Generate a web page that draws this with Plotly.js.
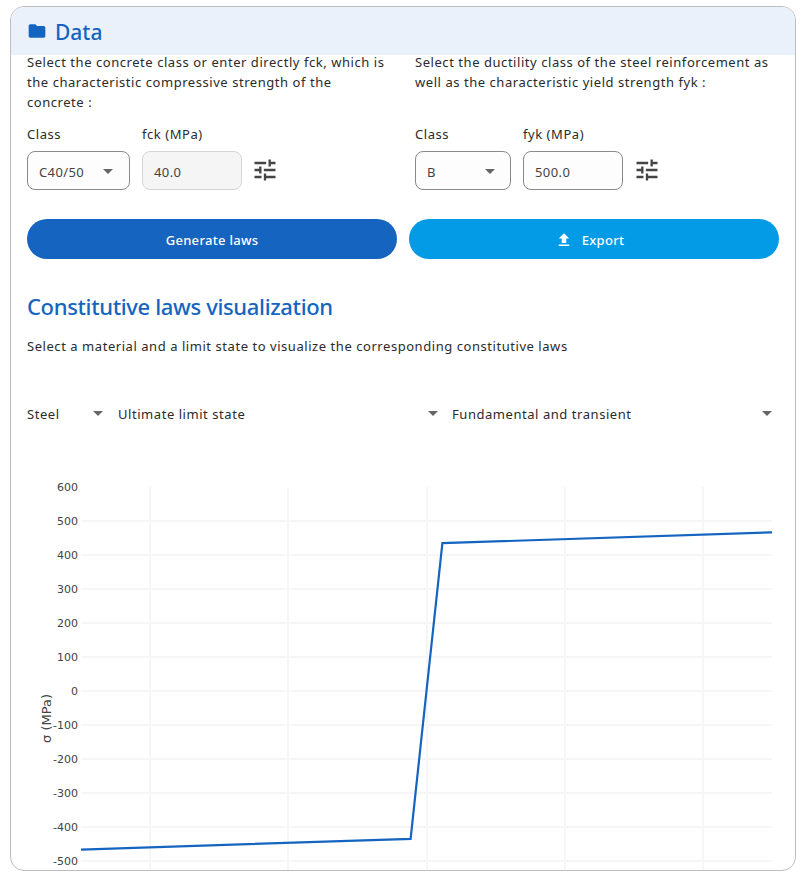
<!DOCTYPE html>
<html><head><meta charset="utf-8">
<script src="https://cdn.plot.ly/plotly-3.0.1.min.js"></script>
<style>
html,body{margin:0;padding:0;background:#fff;width:806px;height:879px;overflow:hidden;font-family:"Noto Sans",sans-serif;color:#2b2b2b}
#card{position:absolute;left:10px;top:6px;width:784px;height:863px;border:1px solid #bdbdbd;border-radius:14px;overflow:hidden;background:#fff}
#page{position:absolute;left:-11px;top:-7px;width:806px;height:879px}
#page>*{position:absolute;white-space:nowrap}
.t{font-size:13px;letter-spacing:.55px;line-height:20px}
.box{box-sizing:border-box;border:1px solid #8a8a8a;border-radius:8px;height:39px;top:151px;font-size:13px;line-height:40px;padding-left:11px;letter-spacing:.4px;color:#444;background:#fdfdfd}
.arrow{width:0;height:0;border-left:5px solid transparent;border-right:5px solid transparent;border-top:5px solid #666}
.btn{top:219px;height:40px;border-radius:20px;width:370px;color:#fff;text-align:center;font-size:13px;line-height:42px;font-weight:500;letter-spacing:.3px}
svg{position:absolute}
</style></head><body>
<div id="card"><div id="page">
<div style="left:0;top:0;width:806px;height:55px;background:#eaf1fa"></div>
<svg style="left:27px;top:21px" width="20" height="20" viewBox="0 0 24 24"><path fill="#1565c0" d="M10 4H4c-1.1 0-2 .9-2 2v12c0 1.1.9 2 2 2h16c1.1 0 2-.9 2-2V8c0-1.1-.9-2-2-2h-8z"/></svg>
<div style="left:55px;top:19px;font-size:21px;line-height:27px;font-weight:500;color:#1565c0">Data</div>
<div class="t" style="left:27px;top:52px">Select the concrete class or enter directly fck, which is<br>the characteristic compressive strength of the<br>concrete :</div>
<div class="t" style="left:415px;top:52px">Select the ductility class of the steel reinforcement as<br>well as the characteristic yield strength fyk :</div>
<div class="t" style="left:27px;top:124px">Class</div>
<div class="t" style="left:142px;top:124px">fck (MPa)</div>
<div class="t" style="left:415px;top:124px">Class</div>
<div class="t" style="left:523px;top:124px">fyk (MPa)</div>
<div class="box" style="left:27px;width:103px">C40/50</div><div class="arrow" style="left:103px;top:169px"></div>
<div class="box" style="left:142px;width:100px;background:#f5f5f5;border-color:#d5d5d5">40.0</div>
<div class="box" style="left:415px;width:96px">B</div><div class="arrow" style="left:485px;top:169px"></div>
<div class="box" style="left:523px;width:100px">500.0</div>
<svg style="left:251px;top:156px" width="28" height="28" viewBox="0 0 24 24"><path fill="#444" d="M3 17v2h6v-2H3zM3 5v2h10V5H3zm10 16v-2h8v-2h-8v-2h-2v6h2zM7 9v2H3v2h4v2h2V9H7zm14 4v-2H11v2h10zm-6-4h2V7h4V5h-4V3h-2v6z"/></svg>
<svg style="left:633px;top:156px" width="28" height="28" viewBox="0 0 24 24"><path fill="#444" d="M3 17v2h6v-2H3zM3 5v2h10V5H3zm10 16v-2h8v-2h-8v-2h-2v6h2zM7 9v2H3v2h4v2h2V9H7zm14 4v-2H11v2h10zm-6-4h2V7h4V5h-4V3h-2v6z"/></svg>
<div class="btn" style="left:27px;background:#1565c0">Generate laws</div>
<div class="btn" style="left:409px;background:#039be5"><svg style="left:146px;top:12px" width="18" height="18" viewBox="0 0 24 24"><path fill="#fff" d="M5 20h14v-2H5v2zm0-10h4v6h6v-6h4l-7-7-7 7z"/></svg><span style="padding-left:18px">Export</span></div>
<div style="left:27px;top:291px;font-size:22px;line-height:30px;font-weight:500;letter-spacing:-.35px;color:#1565c0">Constitutive laws visualization</div>
<div class="t" style="left:27px;top:336px">Select a material and a limit state to visualize the corresponding constitutive laws</div>
<div class="t" style="left:27px;top:404px">Steel</div><div class="arrow" style="left:93px;top:411px"></div>
<div class="t" style="left:118px;top:404px">Ultimate limit state</div><div class="arrow" style="left:428px;top:411px"></div>
<div class="t" style="left:452px;top:404px">Fundamental and transient</div><div class="arrow" style="left:762px;top:411px"></div>
<div id="chart" style="left:27.5px;top:470.5px;width:752px;height:500px"></div>
</div></div>
<script>
var strainPermille=[-50,-2.3,2.3,50];
var stressMPa=[-466.5,-434.8,434.8,466.5];
var xTicks=[-40,-20,0,20,40];
var yTicks=[-500,-400,-300,-200,-100,0,100,200,300,400,500,600];
var yTickLabels=["-500","-400","-300","-200","-100","0","100","200","300","400","500","600"];
var yTitle="σ (MPa)";
var lineColor="#1565c0";
Plotly.newPlot("chart",[{x:strainPermille,y:stressMPa,mode:"lines",line:{color:lineColor,width:2.2},hoverinfo:"x+y",showlegend:false}],{
 width:752,height:500,paper_bgcolor:"rgba(0,0,0,0)",plot_bgcolor:"rgba(0,0,0,0)",
 margin:{l:53,r:7.5,t:16,b:76},
 font:{family:"DejaVu Sans",size:11,color:"#444"},
 xaxis:{range:[-50,50],tickvals:xTicks,showticklabels:false,ticks:"",showgrid:true,gridcolor:"#f6f6f6",gridwidth:2,zeroline:false,showline:false},
 yaxis:{range:[-600,600],tickvals:yTicks,ticktext:yTickLabels,ticklabelstandoff:2,showgrid:true,gridcolor:"#f6f6f6",gridwidth:2,zeroline:false,showline:false,ticks:"",automargin:false},
 annotations:[{text:yTitle,textangle:-90,xref:"paper",yref:"paper",x:-0.05,y:0.4326,xanchor:"center",yanchor:"middle",showarrow:false,font:{family:"DejaVu Sans",size:13,color:"#444"}}]
},{displayModeBar:false,responsive:false});
</script>
</body></html>
